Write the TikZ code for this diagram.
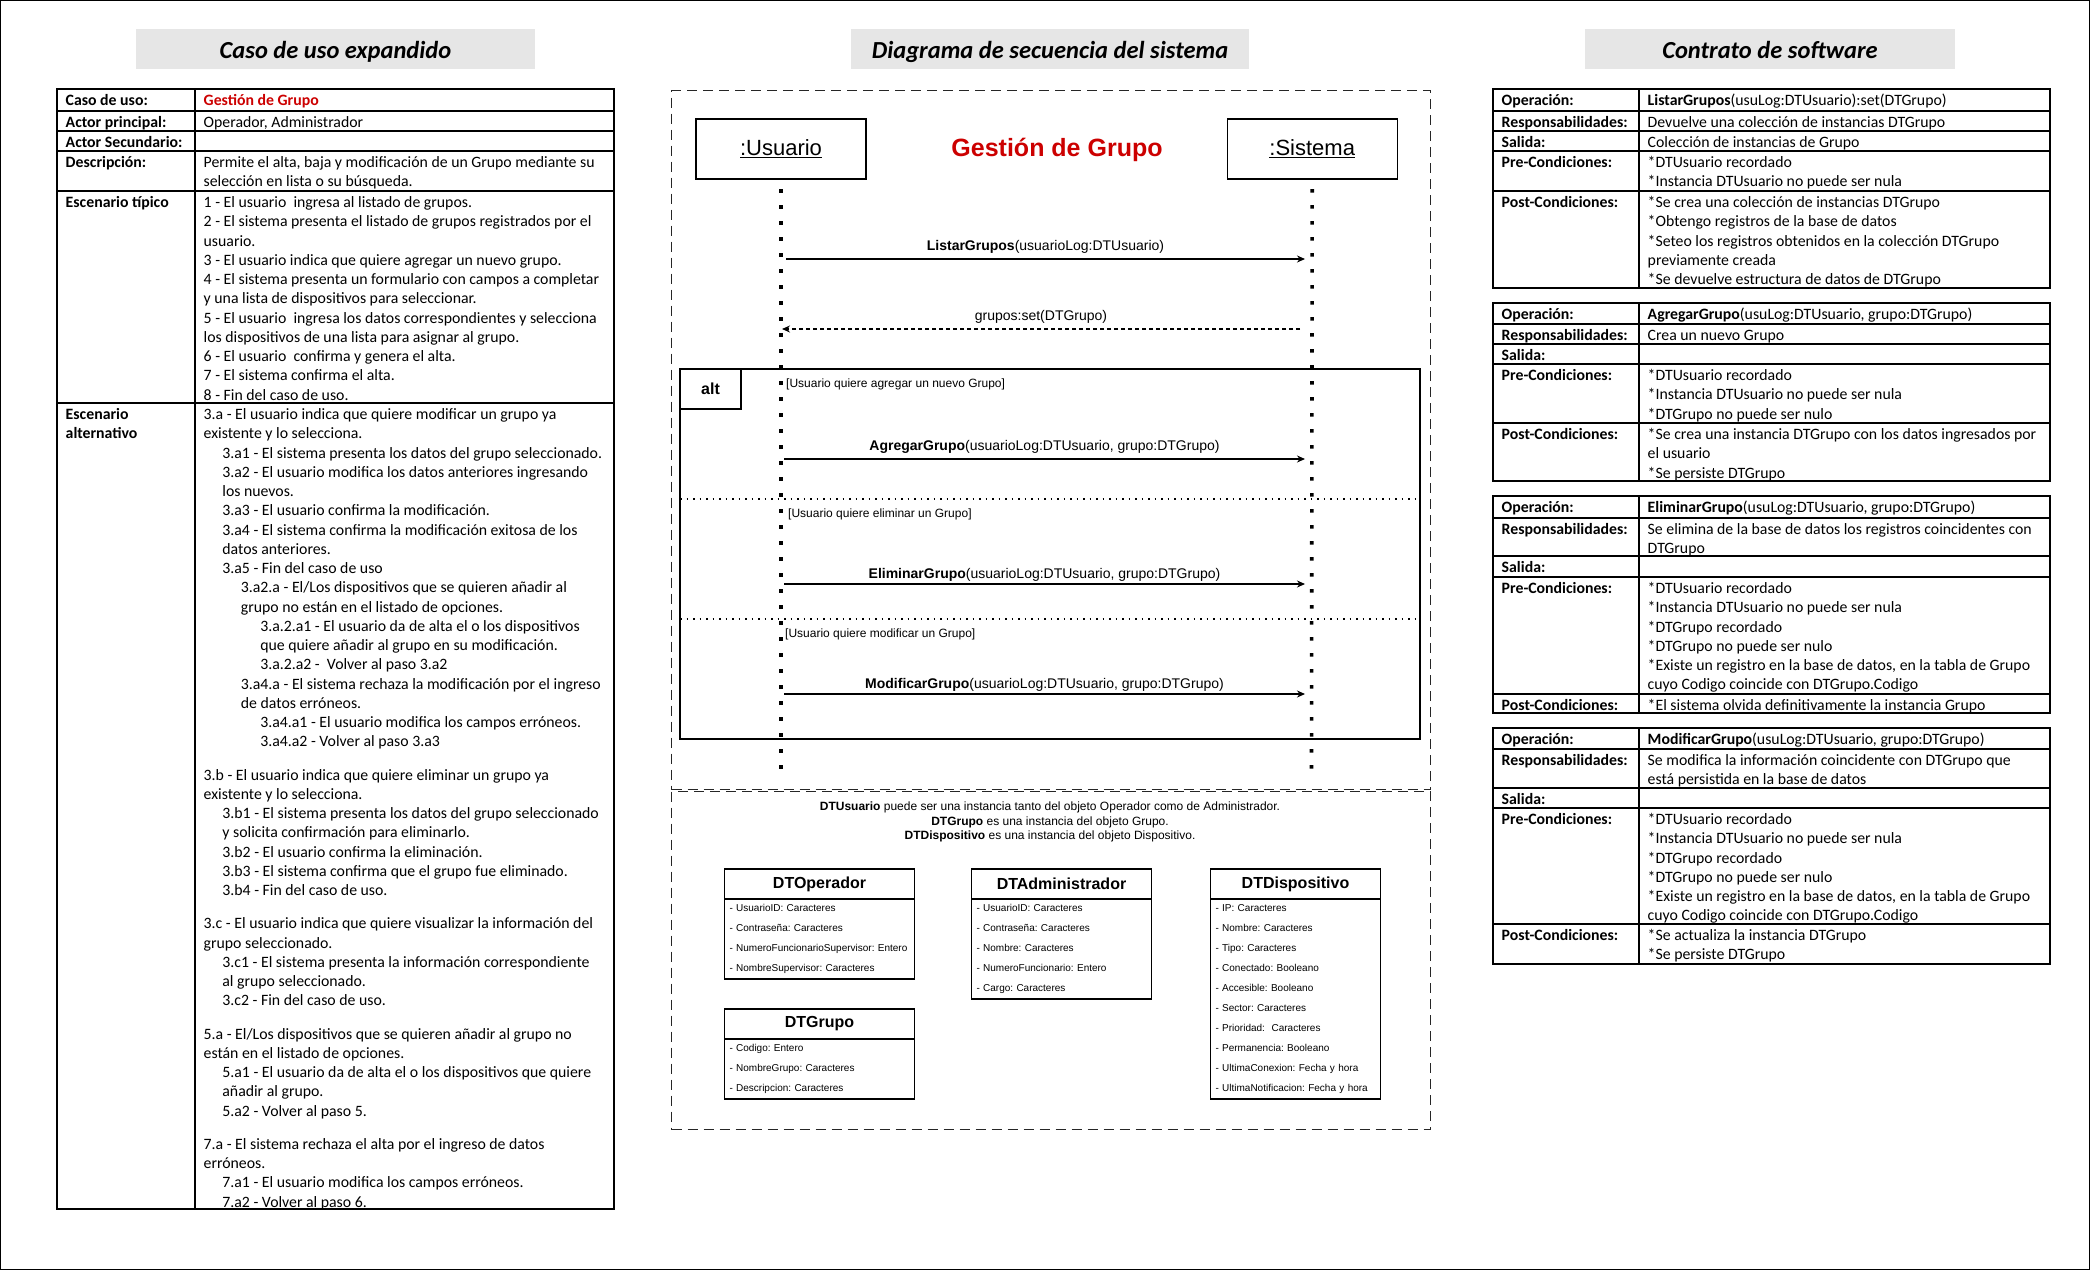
\documentclass[tikz,border=0pt]{standalone}
\usepackage{fontspec}
\setmainfont{Carlito}
\newfontfamily\seqfont{Liberation Sans}
\usepackage{xcolor}
\usetikzlibrary{arrows.meta, positioning}
\definecolor{titlegray}{RGB}{230,230,230}
\definecolor{gdred}{RGB}{204,0,0}
\frenchspacing
\newcommand{\cellfont}{\fontsize{15.8}{19.25}\selectfont}
\newcommand{\cstrut}{\rule{0pt}{16.5pt}}
\newcommand{\inda}{\hspace*{18.7pt}}
\newcommand{\indb}{\hspace*{37.2pt}}
\newcommand{\indc}{\hspace*{56.6pt}}
\newcommand{\trow}[5]{%
  \draw [tabline] (\cxa,#2) rectangle (\cxb,#3) (\cxb,#2) rectangle (\cxc,#3);
  \node (#1l) [celllabel] at (\cxa+8.5,#2) {\cstrut#4};
  \node (#1v) [celltext] at (\cxb+8.5,#2) {\cstrut#5};
}
\tikzstyle{titlebox} = [rectangle, fill=titlegray, minimum height=40pt, inner sep=0pt, text height=23pt, text depth=4.4pt, font=\fontsize{24.5}{28}\selectfont\bfseries\itshape]
\tikzstyle{tabline} = [line width=1.2pt]
\tikzstyle{celltext} = [anchor=north west, inner sep=0pt, align=left, font=\cellfont]
\tikzstyle{celllabel} = [celltext, font=\cellfont\bfseries]
\tikzstyle{lifebox} = [rectangle, draw=black, line width=1.2pt, minimum width=170pt, minimum height=60pt, font=\seqfont\fontsize{22}{26}\selectfont]
\tikzstyle{lifeline} = [line width=3.6pt, dash pattern=on 3.4pt off 12.6pt]
\tikzstyle{message} = [line width=1.2pt, -{Stealth[length=8pt, width=7pt]}]
\tikzstyle{reply} = [message, dash pattern=on 4pt off 3pt]
\tikzstyle{msgtext} = [inner sep=0pt, font=\seqfont\fontsize{14}{16}\selectfont]
\tikzstyle{guard} = [anchor=west, inner sep=0pt, font=\seqfont\fontsize{12}{14}\selectfont]
\tikzstyle{dashframe} = [rectangle, draw=black!85, line width=1.2pt, dash pattern=on 10pt off 6pt, anchor=north west]
\tikzstyle{fragment} = [rectangle, draw=black, line width=1.2pt, outer sep=0pt]
\tikzstyle{altsep} = [line width=1.5pt, dash pattern=on 1.5pt off 5pt]
\tikzstyle{classhead} = [rectangle, draw=black, line width=1.2pt, outer sep=0pt, minimum height=30pt, inner sep=0pt, font=\seqfont\bfseries\fontsize{16}{19}\selectfont]
\tikzstyle{classbody} = [rectangle, draw=black, line width=1.2pt, outer sep=0pt, inner xsep=5pt, inner ysep=0pt, align=left, font=\seqfont\fontsize{10}{20}\selectfont]

\begin{document}
\begin{tikzpicture}[x=1pt, y=-1pt]
\useasboundingbox (0,0) rectangle (2091,1272);
\draw [line width=1.3pt] (0.65,0.65) rectangle (2089.6,1269.4);

\node (caso) [titlebox, minimum width=399pt] at (335.5,49) {Caso de uso expandido};
\node (secuencia) [titlebox, minimum width=398pt] at (1050,49) {Diagrama de secuencia del sistema};
\node (contrato) [titlebox, minimum width=370pt] at (1770,49) {Contrato de software};

\def\cxa{57}\def\cxb{195}\def\cxc{614}
\trow{r1}{89}{111}{Caso de uso:}{\textcolor{gdred}{\textbf{Gestión de Grupo}}}
\trow{r2}{111}{131}{Actor principal:}{Operador, Administrador}
\trow{r3}{131}{151}{Actor Secundario:}{}
\trow{r4}{151}{191}{Descripción:}{Permite el alta, baja y modificación de un Grupo mediante su\\selección en lista o su búsqueda.}
\trow{r5}{191}{403}{Escenario típico}{1 - El usuario~ ingresa al listado de grupos.\\2 - El sistema presenta el listado de grupos registrados por el\\usuario.\\3 - El usuario indica que quiere agregar un nuevo grupo.\\4 - El sistema presenta un formulario con campos a completar\\y una lista de dispositivos para seleccionar.\\5 - El usuario~ ingresa los datos correspondientes y selecciona\\los dispositivos de una lista para asignar al grupo.\\6 - El usuario~ confirma y genera el alta.\\7 - El sistema confirma el alta.\\8 - Fin del caso de uso.}
\trow{r6}{403}{1209}{Escenario\\alternativo}{3.a - El usuario indica que quiere modificar un grupo ya\\existente y lo selecciona.\\\inda 3.a1 - El sistema presenta los datos del grupo seleccionado.\\\inda 3.a2 - El usuario modifica los datos anteriores ingresando\\\inda los nuevos.\\\inda 3.a3 - El usuario confirma la modificación.\\\inda 3.a4 - El sistema confirma la modificación exitosa de los\\\inda datos anteriores.\\\inda 3.a5 - Fin del caso de uso\\\indb 3.a2.a - El/Los dispositivos que se quieren añadir al\\\indb grupo no están en el listado de opciones.\\\indc 3.a.2.a1 - El usuario da de alta el o los dispositivos\\\indc que quiere añadir al grupo en su modificación.\\\indc 3.a.2.a2 -~ Volver al paso 3.a2\\\indb 3.a4.a - El sistema rechaza la modificación por el ingreso\\\indb de datos erróneos.\\\indc 3.a4.a1 - El usuario modifica los campos erróneos.\\\indc 3.a4.a2 - Volver al paso 3.a3\\[14pt]3.b - El usuario indica que quiere eliminar un grupo ya\\existente y lo selecciona.\\\inda 3.b1 - El sistema presenta los datos del grupo seleccionado\\\inda y solicita confirmación para eliminarlo.\\\inda 3.b2 - El usuario confirma la eliminación.\\\inda 3.b3 - El sistema confirma que el grupo fue eliminado.\\\inda 3.b4 - Fin del caso de uso.\\[14pt]3.c - El usuario indica que quiere visualizar la información del\\grupo seleccionado.\\\inda 3.c1 - El sistema presenta la información correspondiente\\\inda al grupo seleccionado.\\\inda 3.c2 - Fin del caso de uso.\\[14pt]5.a - El/Los dispositivos que se quieren añadir al grupo no\\están en el listado de opciones.\\\inda 5.a1 - El usuario da de alta el o los dispositivos que quiere\\\inda añadir al grupo.\\\inda 5.a2 - Volver al paso 5.\\[14pt]7.a - El sistema rechaza el alta por el ingreso de datos\\erróneos.\\\inda 7.a1 - El usuario modifica los campos erróneos.\\\inda 7.a2 - Volver al paso 6.}

\node (seqframe) [dashframe, minimum width=759pt, minimum height=699pt] at (671,90) {};
\node (noteframe) [dashframe, minimum width=759pt, minimum height=338pt] at (671,791) {};

\node (alt) [fragment, minimum width=740pt, minimum height=370pt] at (1050,554) {};
\node (alttab) [fragment, anchor=north west, minimum width=61pt, minimum height=40pt, font=\seqfont\bfseries\fontsize{16}{19}\selectfont] at (alt.north west) {alt};
\draw [altsep] ([yshift=-130pt]alt.north west) -- ([yshift=-130pt]alt.north east);
\draw [altsep] ([yshift=-250pt]alt.north west) -- ([yshift=-250pt]alt.north east);
\node (g1) [guard] at (786,384) {[Usuario quiere agregar un nuevo Grupo]};
\node (g2) [guard] at (788,514) {[Usuario quiere eliminar un Grupo]};
\node (g3) [guard] at (785,634) {[Usuario quiere modificar un Grupo]};

\node (usuario) [lifebox] at (781,149) {\underline{:Usuario}};
\node (sistema) [lifebox, right=360pt of usuario] {\underline{:Sistema}};
\node (seqtitle) [font=\seqfont\bfseries\fontsize{25}{30}\selectfont, text=gdred] at (1057,150) {Gestión de Grupo};

\coordinate (uend) at (781,770);
\coordinate (send) at (1311.5,770);
\draw [lifeline] ([yshift=-9.5pt]usuario.south) -- (uend);
\draw [lifeline] ([yshift=-9.5pt]sistema.south) -- (send);

\coordinate (m1a) at (786,259);  \coordinate (m1b) at (1305,259);
\coordinate (m2a) at (1300,329); \coordinate (m2b) at (782,329);
\coordinate (m3a) at (784,459);  \coordinate (m3b) at (1305,459);
\coordinate (m4a) at (784,584);  \coordinate (m4b) at (1305,584);
\coordinate (m5a) at (784,694);  \coordinate (m5b) at (1305,694);
\draw [message] (m1a) -- node (t1) [msgtext, above=5pt] {\textbf{ListarGrupos}(usuarioLog:DTUsuario)} (m1b);
\draw [reply] (m2a) -- node (t2) [msgtext, above=5pt] {grupos:set(DTGrupo)} (m2b);
\draw [message] (m3a) -- node (t3) [msgtext, above=5pt] {\textbf{AgregarGrupo}(usuarioLog:DTUsuario, grupo:DTGrupo)} (m3b);
\draw [message] (m4a) -- node (t4) [msgtext, above=2.5pt] {\textbf{EliminarGrupo}(usuarioLog:DTUsuario, grupo:DTGrupo)} (m4b);
\draw [message] (m5a) -- node (t5) [msgtext, above=2.5pt] {\textbf{ModificarGrupo}(usuarioLog:DTUsuario, grupo:DTGrupo)} (m5b);

\node (note) [align=center, font=\seqfont\fontsize{12}{14.3}\selectfont] at (1050,822) {\textbf{DTUsuario} puede ser una instancia tanto del objeto Operador como de Administrador.\\\textbf{DTGrupo} es una instancia del objeto Grupo.\\\textbf{DTDispositivo} es una instancia del objeto Dispositivo.};

\node (dtoperador) [classhead, minimum width=190pt] at (819.5,884) {DTOperador};
\node (dtoperadorattr) [classbody, text width=180pt, minimum height=80pt, below=0pt of dtoperador] {- UsuarioID: Caracteres\\- Contraseña: Caracteres\\- NumeroFuncionarioSupervisor: Entero\\- NombreSupervisor: Caracteres};
\node (dtadmin) [classhead, minimum width=180pt, right=57pt of dtoperador] {DTAdministrador};
\node (dtadminattr) [classbody, text width=170pt, minimum height=100pt, below=0pt of dtadmin] {- UsuarioID: Caracteres\\- Contraseña: Caracteres\\- Nombre: Caracteres\\- NumeroFuncionario: Entero\\- Cargo: Caracteres};
\node (dtdisp) [classhead, minimum width=170pt, right=59pt of dtadmin] {DTDispositivo};
\node (dtdispattr) [classbody, text width=160pt, minimum height=200pt, below=0pt of dtdisp] {- IP: Caracteres\\- Nombre: Caracteres\\- Tipo: Caracteres\\- Conectado: Booleano\\- Accesible: Booleano\\- Sector: Caracteres\\- Prioridad:~ Caracteres\\- Permanencia: Booleano\\- UltimaConexion: Fecha y hora\\- UltimaNotificacion: Fecha y hora};
\node (dtgrupo) [classhead, minimum width=190pt, below=30pt of dtoperadorattr] {DTGrupo};
\node (dtgrupoattr) [classbody, text width=180pt, minimum height=60pt, below=0pt of dtgrupo] {- Codigo: Entero\\- NombreGrupo: Caracteres\\- Descripcion: Caracteres};

\def\cxa{1493}\def\cxb{1639}\def\cxc{2050}
\trow{a1}{89}{111}{Operación:}{\textbf{ListarGrupos}(usuLog:DTUsuario):set(DTGrupo)}
\trow{a2}{111}{131}{Responsabilidades:}{Devuelve una colección de instancias DTGrupo}
\trow{a3}{131}{151}{Salida:}{Colección de instancias de Grupo}
\trow{a4}{151}{191}{Pre-Condiciones:}{*DTUsuario recordado\\{}*Instancia DTUsuario no puede ser nula}
\trow{a5}{191}{288}{Post-Condiciones:}{*Se crea una colección de instancias DTGrupo\\{}*Obtengo registros de la base de datos\\{}*Seteo los registros obtenidos en la colección DTGrupo\\previamente creada\\{}*Se devuelve estructura de datos de DTGrupo}

\trow{b1}{303}{324}{Operación:}{\textbf{AgregarGrupo}(usuLog:DTUsuario, grupo:DTGrupo)}
\trow{b2}{324}{344}{Responsabilidades:}{Crea un nuevo Grupo}
\trow{b3}{344}{364}{Salida:}{}
\trow{b4}{364}{423}{Pre-Condiciones:}{*DTUsuario recordado\\{}*Instancia DTUsuario no puede ser nula\\{}*DTGrupo no puede ser nulo}
\trow{b5}{423}{481}{Post-Condiciones:}{*Se crea una instancia DTGrupo con los datos ingresados por\\el usuario\\{}*Se persiste DTGrupo}

\trow{c1}{496}{518}{Operación:}{\textbf{EliminarGrupo}(usuLog:DTUsuario, grupo:DTGrupo)}
\trow{c2}{518}{556}{Responsabilidades:}{Se elimina de la base de datos los registros coincidentes con\\DTGrupo}
\trow{c3}{556}{577}{Salida:}{}
\trow{c4}{577}{694}{Pre-Condiciones:}{*DTUsuario recordado\\{}*Instancia DTUsuario no puede ser nula\\{}*DTGrupo recordado\\{}*DTGrupo no puede ser nulo\\{}*Existe un registro en la base de datos, en la tabla de Grupo\\cuyo Codigo coincide con DTGrupo.Codigo}
\trow{c5}{694}{713}{Post-Condiciones:}{*El sistema olvida definitivamente la instancia Grupo}

\trow{d1}{728}{749}{Operación:}{\textbf{ModificarGrupo}(usuLog:DTUsuario, grupo:DTGrupo)}
\trow{d2}{749}{788}{Responsabilidades:}{Se modifica la información coincidente con DTGrupo que\\está persistida en la base de datos}
\trow{d3}{788}{808}{Salida:}{}
\trow{d4}{808}{924}{Pre-Condiciones:}{*DTUsuario recordado\\{}*Instancia DTUsuario no puede ser nula\\{}*DTGrupo recordado\\{}*DTGrupo no puede ser nulo\\{}*Existe un registro en la base de datos, en la tabla de Grupo\\cuyo Codigo coincide con DTGrupo.Codigo}
\trow{d5}{924}{964}{Post-Condiciones:}{*Se actualiza la instancia DTGrupo\\{}*Se persiste DTGrupo}
\end{tikzpicture}
\end{document}
